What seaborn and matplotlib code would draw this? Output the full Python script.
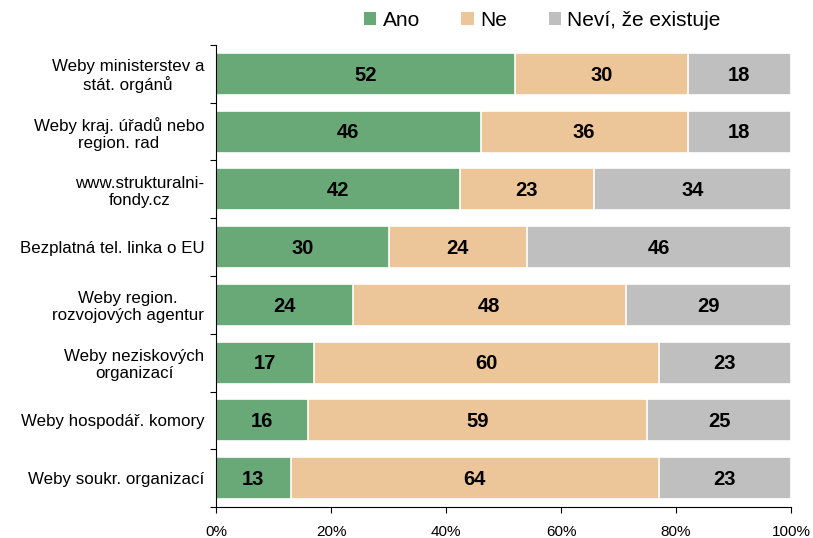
import numpy as np
import pandas as pd
import matplotlib
matplotlib.use("Agg")
import matplotlib.pyplot as plt
import seaborn as sns
from matplotlib.ticker import FixedLocator, PercentFormatter
from matplotlib.patches import Patch

# Daten
categories = [
    "Weby ministerstev a\nstát. orgánů",
    "Weby kraj. úřadů nebo\nregion. rad",
    "www.strukturalni-\nfondy.cz",
    "Bezplatná tel. linka o EU",
    "Weby region.\nrozvojových agentur",
    "Weby neziskových\norganizací",
    "Weby hospodář. komory",
    "Weby soukr. organizací",
]
ano = [52, 46, 42, 30, 24, 17, 16, 13]
ne = [30, 36, 23, 24, 48, 60, 59, 64]
nevi = [18, 18, 34, 46, 29, 23, 25, 23]
series_names = ["Ano", "Ne", "Neví, že existuje"]
colors = ["#69a978", "#ecc599", "#bfbfbf"]

df = pd.DataFrame({"kat": categories, "Ano": ano, "Ne": ne, "Nevi": nevi})
total = df[["Ano", "Ne", "Nevi"]].sum(axis=1)
# auf 100 % normieren (gestapelt)
df["c1"] = df["Ano"] / total * 100
df["c2"] = (df["Ano"] + df["Ne"]) / total * 100
df["c3"] = 100.0

sns.set_style("white")
plt.rcParams["font.family"] = ["Liberation Sans", "DejaVu Sans"]
plt.rcParams["text.color"] = "black"
plt.rcParams["xtick.labelcolor"] = "black"
plt.rcParams["ytick.labelcolor"] = "black"

fig = plt.figure(figsize=(8.13, 5.38), dpi=100)
ax = fig.add_axes([0.2657, 0.0576, 0.973 - 0.2657, 0.9164 - 0.0576])

# überlappende Balken von hinten nach vorne
for col, color in zip(["c3", "c2", "c1"], colors[::-1]):
    sns.barplot(data=df, x=col, y="kat", orient="h", color=color,
                width=0.73, edgecolor="white", linewidth=1.2,
                saturation=1, ax=ax)

# Werte in die Segmente
lefts = np.column_stack([np.zeros(len(df)), df["c1"], df["c2"]])
rights = np.column_stack([df["c1"], df["c2"], df["c3"]])
vals = df[["Ano", "Ne", "Nevi"]].to_numpy()
for i in range(len(df)):
    for j in range(3):
        ax.text((lefts[i, j] + rights[i, j]) / 2, i + 0.02, str(vals[i, j]),
                ha="center", va="center", fontsize=14.5, fontweight="bold",
                color="black")

ax.set_xlim(0, 100)
ax.set_ylim(len(df) - 0.5, -0.5)
ax.xaxis.set_major_locator(FixedLocator([0, 20, 40, 60, 80, 100]))
ax.xaxis.set_major_formatter(PercentFormatter(decimals=0))
ax.set_xlabel("")
ax.set_ylabel("")

for s in ["top", "right"]:
    ax.spines[s].set_visible(False)
for s in ["left", "bottom"]:
    ax.spines[s].set_color("black")
    ax.spines[s].set_linewidth(0.8)

ax.tick_params(axis="x", bottom=True, length=4, width=0.8, direction="out",
               labelsize=11, pad=9, color="black", labelcolor="black")
ax.tick_params(axis="y", which="major", left=False, labelsize=12.2, pad=5,
               labelcolor="black")
ax.yaxis.set_minor_locator(FixedLocator(np.arange(-0.5, len(df), 1)))
ax.tick_params(axis="y", which="minor", left=True, length=4, width=0.8,
               direction="out", color="black")
for lbl in ax.get_yticklabels():
    lbl.set_horizontalalignment("right")
    lbl.set_multialignment("center")
    lbl.set_linespacing(1.15)

handles = [Patch(facecolor=c, edgecolor="none") for c in colors]
fig.legend(handles, series_names, loc="center", bbox_to_anchor=(0.667, 0.962),
           ncol=3, frameon=False, fontsize=15, handlelength=0.6,
           handleheight=0.6, handletextpad=0.3, columnspacing=2.0,
           labelcolor="black")

fig.savefig("out.png", dpi=100)
